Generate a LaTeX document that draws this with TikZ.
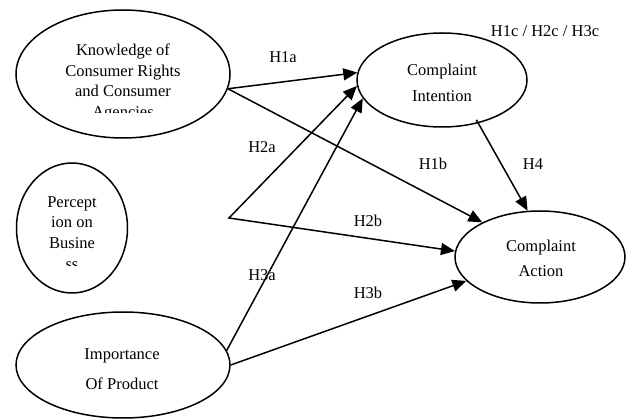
\documentclass[tikz,border=0pt]{standalone}
\usepackage{fontspec}
\setmainfont{Liberation Serif}
\usetikzlibrary{arrows.meta,shapes.geometric}
\begin{document}
\begin{tikzpicture}[x=1pt,y=-1pt,
  oval/.style={ellipse,draw,line width=1.5pt,inner sep=0pt},
  txt/.style={anchor=base,inner sep=0pt,font=\fontsize{16.5}{20}\selectfont},
  conn/.style={line width=1.5pt,-{Triangle[length=14pt,width=12pt]}},
  conntwo/.style={line width=1.5pt,{Triangle[length=14pt,width=12pt]}-{Triangle[length=14pt,width=12pt]}}]
\useasboundingbox (0,0) rectangle (627,419);
% ellipses
\node[oval,minimum width=214pt,minimum height=128pt] (k) at (123,74) {};
\node[oval,minimum width=170pt,minimum height=94pt] (ci) at (442,80) {};
\node[oval,minimum width=111pt,minimum height=130pt] (p) at (72,228) {};
\node[oval,minimum width=214pt,minimum height=106pt] (i) at (123,365) {};
\node[oval,minimum width=170pt,minimum height=92pt] (ca) at (540,257) {};
% texts
\node[txt] (k1) at (123,56) {Knowledge of};
\node[txt] (k2) at (123,77) {Consumer Rights};
\node[txt] (k3) at (123,97) {and Consumer};
\begin{scope}
\clip (60,100) rectangle (190,113);
\node[txt] (k4) at (123,118) {Agencies};
\end{scope}
\node[txt] (ci1) at (442,76) {Complaint};
\node[txt] (ci2) at (442,102) {Intention};
\node[txt] (p1) at (72,208) {Percept};
\node[txt] (p2) at (72,228) {ion on};
\node[txt] (p3) at (72,249) {Busine};
\begin{scope}
\clip (40,255) rectangle (110,266);
\node[txt] (p4) at (72,270) {ss};
\end{scope}
\node[txt] (i1) at (122,360) {Importance};
\node[txt] (i2) at (122,390) {Of Product};
\node[txt] (ca1) at (541,252) {Complaint};
\node[txt] (ca2) at (541,277) {Action};
% labels
\node[txt] (h1c) at (545,37) {H1c / H2c / H3c};
\node[txt] (h1a) at (283,63) {H1a};
\node[txt] (h2a) at (262,153) {H2a};
\node[txt] (h3a) at (262,281) {H3a};
\node[txt] (h1b) at (433,170) {H1b};
\node[txt] (h4) at (533,170) {H4};
\node[txt] (h2b) at (368,227) {H2b};
\node[txt] (h3b) at (368,299) {H3b};
% connectors
\coordinate (pv) at (229,218);
\draw[conn] (k.-8) -- (ci.175);
\draw[conn] (k.-8) -- (ca.149);
\draw[conntwo] (ci.184) -- (pv) -- (ca.176);
\draw[conn] (i.8) -- (ci.193);
\draw[conn] (i.0) -- (ca.198);
\draw[conn,shorten <=-4pt] (ci.-50) -- (ca.105);
\end{tikzpicture}
\end{document}
